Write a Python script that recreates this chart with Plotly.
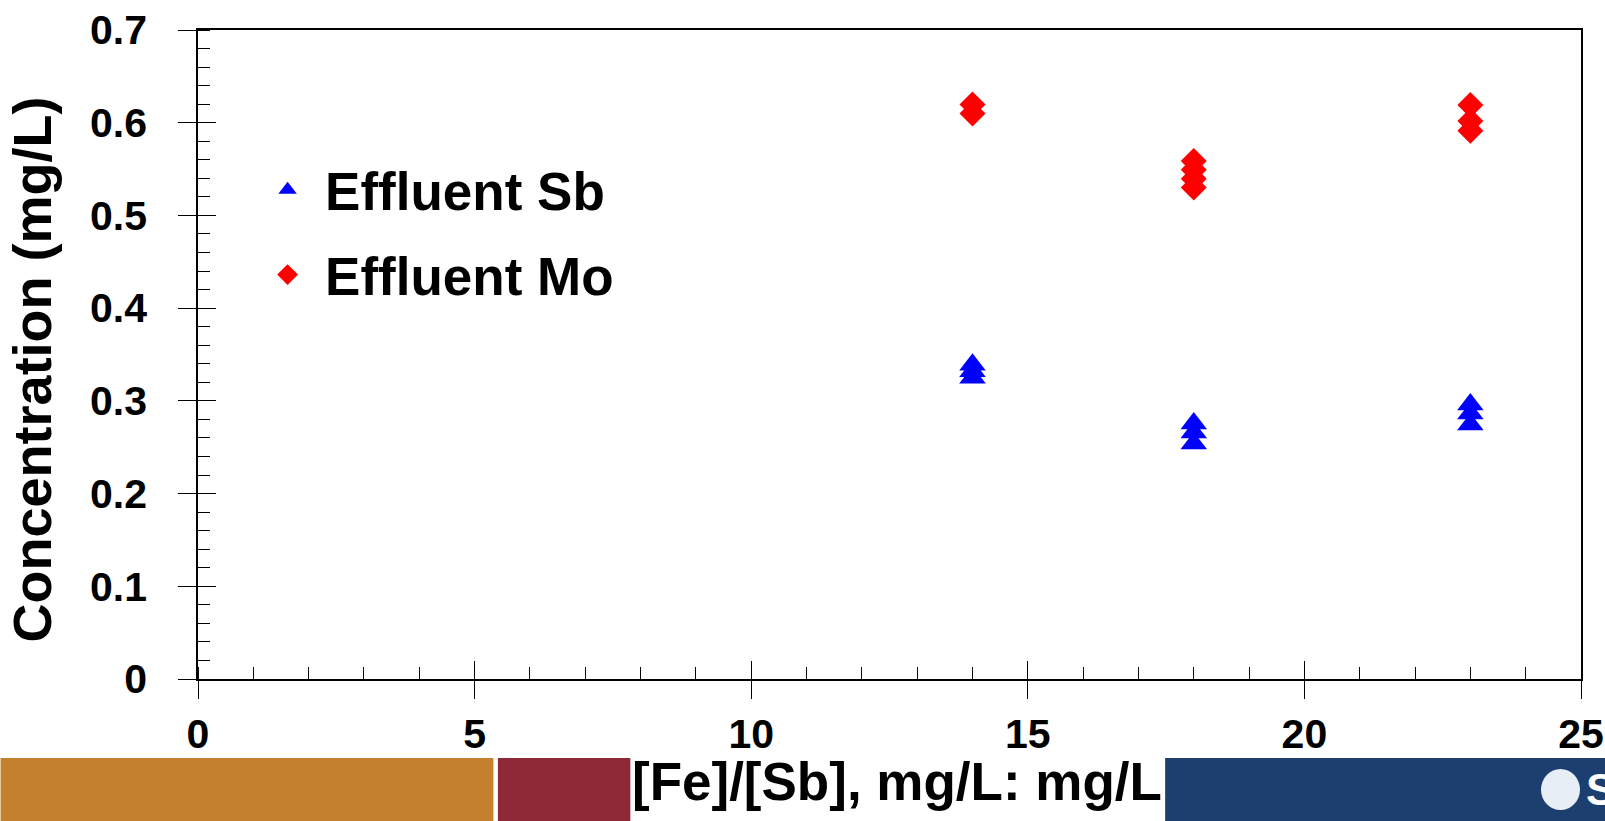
import plotly.graph_objects as go

# ---- data ----
fe_sb_sb = [14, 14, 14, 18, 18, 18, 23, 23, 23]
effluent_sb = [0.339, 0.332, 0.325, 0.2755, 0.2658, 0.254, 0.296, 0.2863, 0.2744]
fe_sb_mo = [14, 14, 18, 18, 18, 18, 23, 23, 23]
effluent_mo = [0.6197, 0.610, 0.5587, 0.5493, 0.5395, 0.5302, 0.6191, 0.6018, 0.5914]

x_ticks = [0, 5, 10, 15, 20, 25]
x_ticktext = ["0", "5", "10", "15", "20", "25"]
y_ticks = [0, 0.1, 0.2, 0.3, 0.4, 0.5, 0.6, 0.7]
y_ticktext = ["0", "0.1", "0.2", "0.3", "0.4", "0.5", "0.6", "0.7"]

W, H = 1605, 821
L, R, T, B = 197.5, 1581, 30.3, 679.0

def px(xp):
    return (xp - L) / (R - L)

def py(yp):
    return (B - yp) / (B - T)

FONT = "Liberation Sans, Arial, sans-serif"

fig = go.Figure()
fig.add_trace(go.Scatter(
    x=fe_sb_sb, y=effluent_sb, mode="markers", name="Effluent Sb", legendgroup="sb",
    marker=dict(symbol="triangle-up", size=23, color="#0000FF", line=dict(width=0)),
))
fig.add_trace(go.Scatter(
    x=fe_sb_mo, y=effluent_mo, mode="markers", name="Effluent Mo", legendgroup="mo",
    marker=dict(symbol="diamond", size=20, color="#FF0000", line=dict(width=0)),
))

tickfont = dict(family=FONT, size=41, color="black", weight="bold")

fig.update_layout(
    width=W, height=H,
    margin=dict(l=L, r=W - R, t=T, b=H - B, pad=0, autoexpand=False),
    paper_bgcolor="white", plot_bgcolor="white",
    showlegend=True,
    legend=dict(
        x=px(249.6), y=py(149), xanchor="left", yanchor="top",
        font=dict(family=FONT, size=53, color="black", weight="bold"),
        bgcolor="rgba(0,0,0,0)", borderwidth=0, tracegroupgap=13,
        itemwidth=65,
    ),
    xaxis=dict(
        range=[0, 25], showgrid=False, zeroline=False, automargin=False,
        showline=True, linecolor="black", linewidth=1.5, mirror=True,
        tickvals=x_ticks, ticktext=x_ticktext, ticks="outside", ticklen=18,
        tickwidth=1.3, tickcolor="black", tickfont=tickfont,
        ticklabelstandoff=0,
        minor=dict(dtick=1, ticks="inside", ticklen=12, tickwidth=1.2, tickcolor="black", showgrid=False),
    ),
    yaxis=dict(
        range=[0, 0.7], showgrid=False, zeroline=False, automargin=False,
        showline=True, linecolor="black", linewidth=1.5, mirror=True,
        tickvals=y_ticks, ticktext=y_ticktext, ticks="outside", ticklen=18,
        tickwidth=1.3, tickcolor="black", tickfont=tickfont,
        ticklabelstandoff=23,
        minor=dict(dtick=0.02, ticks="inside", ticklen=12, tickwidth=1.2, tickcolor="black", showgrid=False),
    ),
    xaxis2=dict(
        overlaying="x", anchor="y", range=[0, 25], showgrid=False, zeroline=False,
        showline=False, tickvals=x_ticks, showticklabels=False, automargin=False,
        ticks="inside", ticklen=18, tickwidth=1.3, tickcolor="black",
    ),
    yaxis2=dict(
        overlaying="y", anchor="x", side="left", range=[0, 0.7], showgrid=False,
        zeroline=False, showline=False, tickvals=y_ticks, showticklabels=False,
        automargin=False, ticks="inside", ticklen=18, tickwidth=1.3, tickcolor="black",
    ),
)

# invisible trace so overlay axes render
fig.add_trace(go.Scatter(x=[None], y=[None], xaxis="x2", yaxis="y2", showlegend=False, hoverinfo="skip"))

# axis titles
fig.add_annotation(
    text="Concentration (mg/L)", xref="paper", yref="paper",
    x=px(31), y=py(370), xanchor="center", yanchor="middle", textangle=-90,
    showarrow=False, font=dict(family=FONT, size=54, color="black", weight="bold"),
)

# bottom decorative bar
def bar(x0, x1, color):
    fig.add_shape(type="rect", xref="paper", yref="paper", x0=px(x0), x1=px(x1),
                  y0=py(821.5), y1=py(758), fillcolor=color, line=dict(width=0), layer="below")

bar(0, 493, "#C5802D")
bar(497.5, 630, "#8E2A38")
bar(1165, 1606, "#1D3F70")

fig.add_annotation(
    text="[Fe]/[Sb], mg/L: mg/L", xref="paper", yref="paper",
    x=px(897), y=py(781), xanchor="center", yanchor="middle", borderpad=0,
    showarrow=False, font=dict(family=FONT, size=53, color="black", weight="bold"),
)

# logo approximation
fig.add_shape(type="circle", xref="paper", yref="paper", x0=px(1541), x1=px(1580),
              y0=py(810), y1=py(769), fillcolor="#E8EEF5", line=dict(width=0))
fig.add_annotation(
    text="S", xref="paper", yref="paper", x=px(1584), y=py(789),
    xanchor="left", yanchor="middle", showarrow=False,
    font=dict(family=FONT, size=44, color="white", weight="bold"),
)

fig.write_html("out.html")
